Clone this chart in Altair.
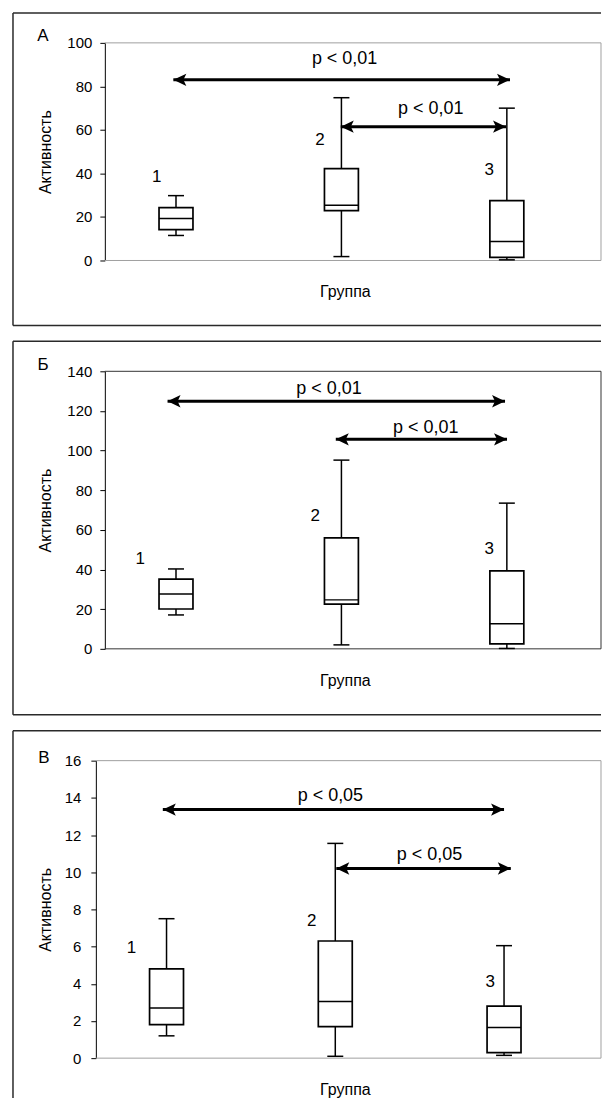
import altair as alt
import pandas as pd

FONT = "Liberation Sans"

groups = [1, 2, 3]
group_names = ["1", "2", "3"]

# ---- Panel А ----
a_lo = [11.5, 1.8, 0.3]
a_q1 = [14.2, 22.9, 1.4]
a_med = [19.3, 25.4, 8.7]
a_q3 = [24.3, 42.2, 27.5]
a_hi = [29.8, 74.8, 70.0]
a_name_x = [0.884, 1.871, 2.894]
a_name_y = [38.5, 55.5, 41.7]
a_arrow_x1 = [0.984, 1.996]
a_arrow_x2 = [3.019, 2.995]
a_arrow_y = [83.0, 61.5]
a_p_text = ["p < 0,01", "p < 0,01"]
a_p_x = [2.019, 2.54]
a_p_y = [92.7, 69.7]
a_ticks = [0, 20, 40, 60, 80, 100]

# ---- Panel Б ----
b_lo = [17.1, 2.0, 0.2]
b_q1 = [20.1, 22.6, 2.5]
b_med = [27.7, 24.7, 12.6]
b_q3 = [35.2, 56.0, 39.3]
b_hi = [40.3, 95.2, 73.5]
b_name_x = [0.783, 1.842, 2.894]
b_name_y = [45.3, 67.0, 50.4]
b_arrow_x1 = [0.949, 1.966]
b_arrow_x2 = [2.989, 3.001]
b_arrow_y = [124.9, 105.7]
b_p_text = ["p < 0,01", "p < 0,01"]
b_p_x = [1.925, 2.51]
b_p_y = [130.9, 111.3]
b_ticks = [0, 20, 40, 60, 80, 100, 120, 140]

# ---- Panel В ----
c_lo = [1.2, 0.1, 0.15]
c_q1 = [1.8, 1.7, 0.3]
c_med = [2.7, 3.05, 1.65]
c_q3 = [4.8, 6.3, 2.8]
c_hi = [7.5, 11.55, 6.05]
c_name_x = [0.792, 1.861, 2.918]
c_name_y = [5.9, 7.36, 4.08]
c_arrow_x1 = [0.978, 2.006]
c_arrow_x2 = [3.0, 3.04]
c_arrow_y = [13.37, 10.2]
c_p_text = ["p < 0,05", "p < 0,05"]
c_p_x = [1.971, 2.558]
c_p_y = [14.12, 10.9]
c_ticks = [0, 2, 4, 6, 8, 10, 12, 14, 16]

RIGHT_HEAD = "M0,0L-2,-0.95L-1.55,0L-2,0.95Z"
LEFT_HEAD = "M0,0L2,-0.95L1.55,0L2,0.95Z"
ONE = alt.Data(values=[{"k": 0}])
WIDTH = 497
LEFT_OFF = 92


def panel(letter, lo, q1, med, q3, hi, name_x, name_y, ax1, ax2, ay,
          p_text, p_x, p_y, ticks, xdomain, height, bottom_off, border,
          axis_offset, label_pad, title_pad, letter_dx, letter_dy,
          xtitle_x, frame_bottom=True):
    width = WIDTH
    box = pd.DataFrame({"g": groups, "lo": lo, "q1": q1, "med": med,
                        "q3": q3, "hi": hi})
    names = pd.DataFrame({"x": name_x, "y": name_y, "t": group_names})
    arrows = pd.DataFrame({"x1": ax1, "x2": ax2, "y": ay})
    ptext = pd.DataFrame({"x": p_x, "y": p_y, "t": p_text})

    xscale = alt.Scale(domain=xdomain, nice=False, zero=False)
    yscale = alt.Scale(domain=[ticks[0], ticks[-1]], nice=False, zero=False)
    xaxis = None
    yaxis = alt.Axis(values=ticks, title="Активность", grid=False,
                     offset=axis_offset,
                     domainColor="black", domainWidth=1, tickColor="black",
                     tickSize=5, tickWidth=1, labelPadding=label_pad,
                     labelFont=FONT, labelFontSize=15, labelColor="black",
                     titleFont=FONT, titleFontSize=16, titleFontWeight="normal",
                     titleColor="black", titlePadding=title_pad)

    def X(f):
        return alt.X(f, type="quantitative", scale=xscale, axis=xaxis)

    def Y(f):
        return alt.Y(f, type="quantitative", scale=yscale, axis=yaxis)

    base = alt.Chart(box)
    whisker = base.mark_rule(color="black", strokeWidth=1.5).encode(
        x=X("g"), y=Y("lo"), y2="hi")
    cap_lo = base.mark_tick(orient="horizontal", size=16, thickness=1.5,
                            color="black", opacity=1).encode(x=X("g"), y=Y("lo"))
    cap_hi = base.mark_tick(orient="horizontal", size=16, thickness=1.5,
                            color="black", opacity=1).encode(x=X("g"), y=Y("hi"))
    boxes = base.mark_bar(size=34, fill="white", stroke="black",
                          strokeWidth=1.7, opacity=1).encode(
        x=X("g"), y=Y("q1"), y2="q3")
    median = base.mark_tick(orient="horizontal", size=34, thickness=1.5,
                            color="black", opacity=1).encode(x=X("g"), y=Y("med"))

    name_lbl = alt.Chart(names).mark_text(font=FONT, fontSize=17,
                                          color="black", baseline="middle",
                                          align="center").encode(
        x=X("x"), y=Y("y"), text="t:N")

    arr = alt.Chart(arrows)
    arrow_line = arr.mark_rule(color="black", strokeWidth=3).encode(
        x=X("x1"), x2="x2", y=Y("y"))
    head_l = arr.mark_point(shape=LEFT_HEAD, filled=True, size=169,
                            color="black", opacity=1, strokeWidth=0).encode(
        x=X("x1"), y=Y("y"))
    head_r = arr.mark_point(shape=RIGHT_HEAD, filled=True, size=169,
                            color="black", opacity=1, strokeWidth=0).encode(
        x=X("x2"), y=Y("y"))
    p_lbl = alt.Chart(ptext).mark_text(font=FONT, fontSize=18, color="black",
                                       baseline="middle", align="center").encode(
        x=X("x"), y=Y("y"), text="t:N")

    def hrule(x1, x2, y, color, sw):
        return alt.Chart(ONE).mark_rule(color=color, strokeWidth=sw).encode(
            x=alt.value(x1), x2=alt.value(x2), y=alt.value(y))

    def vrule(x, y1, y2, color, sw):
        return alt.Chart(ONE).mark_rule(color=color, strokeWidth=sw).encode(
            x=alt.value(x), y=alt.value(y1), y2=alt.value(y2))

    frame_color = "#2a2a2a"
    fb = height + bottom_off
    layers = [
        hrule(-LEFT_OFF, width, -30, frame_color, 1.5),
        vrule(-LEFT_OFF, -30, fb, frame_color, 1.5),
        # plot-area border
        hrule(-axis_offset, width, 0, border, 1),
        hrule(-axis_offset, width, height, border, 1),
        vrule(width, 0, height, border, 1),
    ]
    if frame_bottom:
        layers.append(hrule(-LEFT_OFF, width, fb, frame_color, 1.5))

    letter_mark = alt.Chart(ONE).mark_text(font=FONT, fontSize=17, color="black",
                                           align="center", baseline="middle").encode(
        x=alt.value(letter_dx), y=alt.value(letter_dy), text=alt.value(letter))
    xtitle = alt.Chart(ONE).mark_text(font=FONT, fontSize=16, color="black",
                                      align="center", baseline="middle").encode(
        x=alt.value(xtitle_x), y=alt.value(height + 32), text=alt.value("Группа"))

    return alt.layer(
        *layers, whisker, cap_lo, cap_hi, boxes, median, name_lbl,
        arrow_line, head_l, head_r, p_lbl, letter_mark, xtitle
    ).properties(width=width, height=height)


pA = panel("А", a_lo, a_q1, a_med, a_q3, a_hi, a_name_x, a_name_y,
           a_arrow_x1, a_arrow_x2, a_arrow_y, a_p_text, a_p_x, a_p_y, a_ticks,
           xdomain=[0.6, 3.539], height=218, bottom_off=65, border="#a0a0a0",
           axis_offset=0, label_pad=8, title_pad=13,
           letter_dx=-62, letter_dy=-7, xtitle_x=241)
pB = panel("Б", b_lo, b_q1, b_med, b_q3, b_hi, b_name_x, b_name_y,
           b_arrow_x1, b_arrow_x2, b_arrow_y, b_p_text, b_p_x, b_p_y, b_ticks,
           xdomain=[0.6, 3.539], height=278, bottom_off=66, border="#333333",
           axis_offset=0, label_pad=8, title_pad=13,
           letter_dx=-62, letter_dy=-6, xtitle_x=241)
pC = panel("В", c_lo, c_q1, c_med, c_q3, c_hi, c_name_x, c_name_y,
           c_arrow_x1, c_arrow_x2, c_arrow_y, c_p_text, c_p_x, c_p_y, c_ticks,
           xdomain=[0.664, 3.545], height=298, bottom_off=40, border="#a0a0a0",
           axis_offset=9, label_pad=10, title_pad=11,
           letter_dx=-61, letter_dy=-3, xtitle_x=241, frame_bottom=False)

chart = alt.vconcat(pA, pB, pC, spacing=14).properties(
    padding={"left": 4, "top": 3, "right": 0, "bottom": 0},
    background="white",
).configure(font=FONT).configure_view(stroke=None)

chart.save("out.html", embed_options={"renderer": "svg", "actions": False})
